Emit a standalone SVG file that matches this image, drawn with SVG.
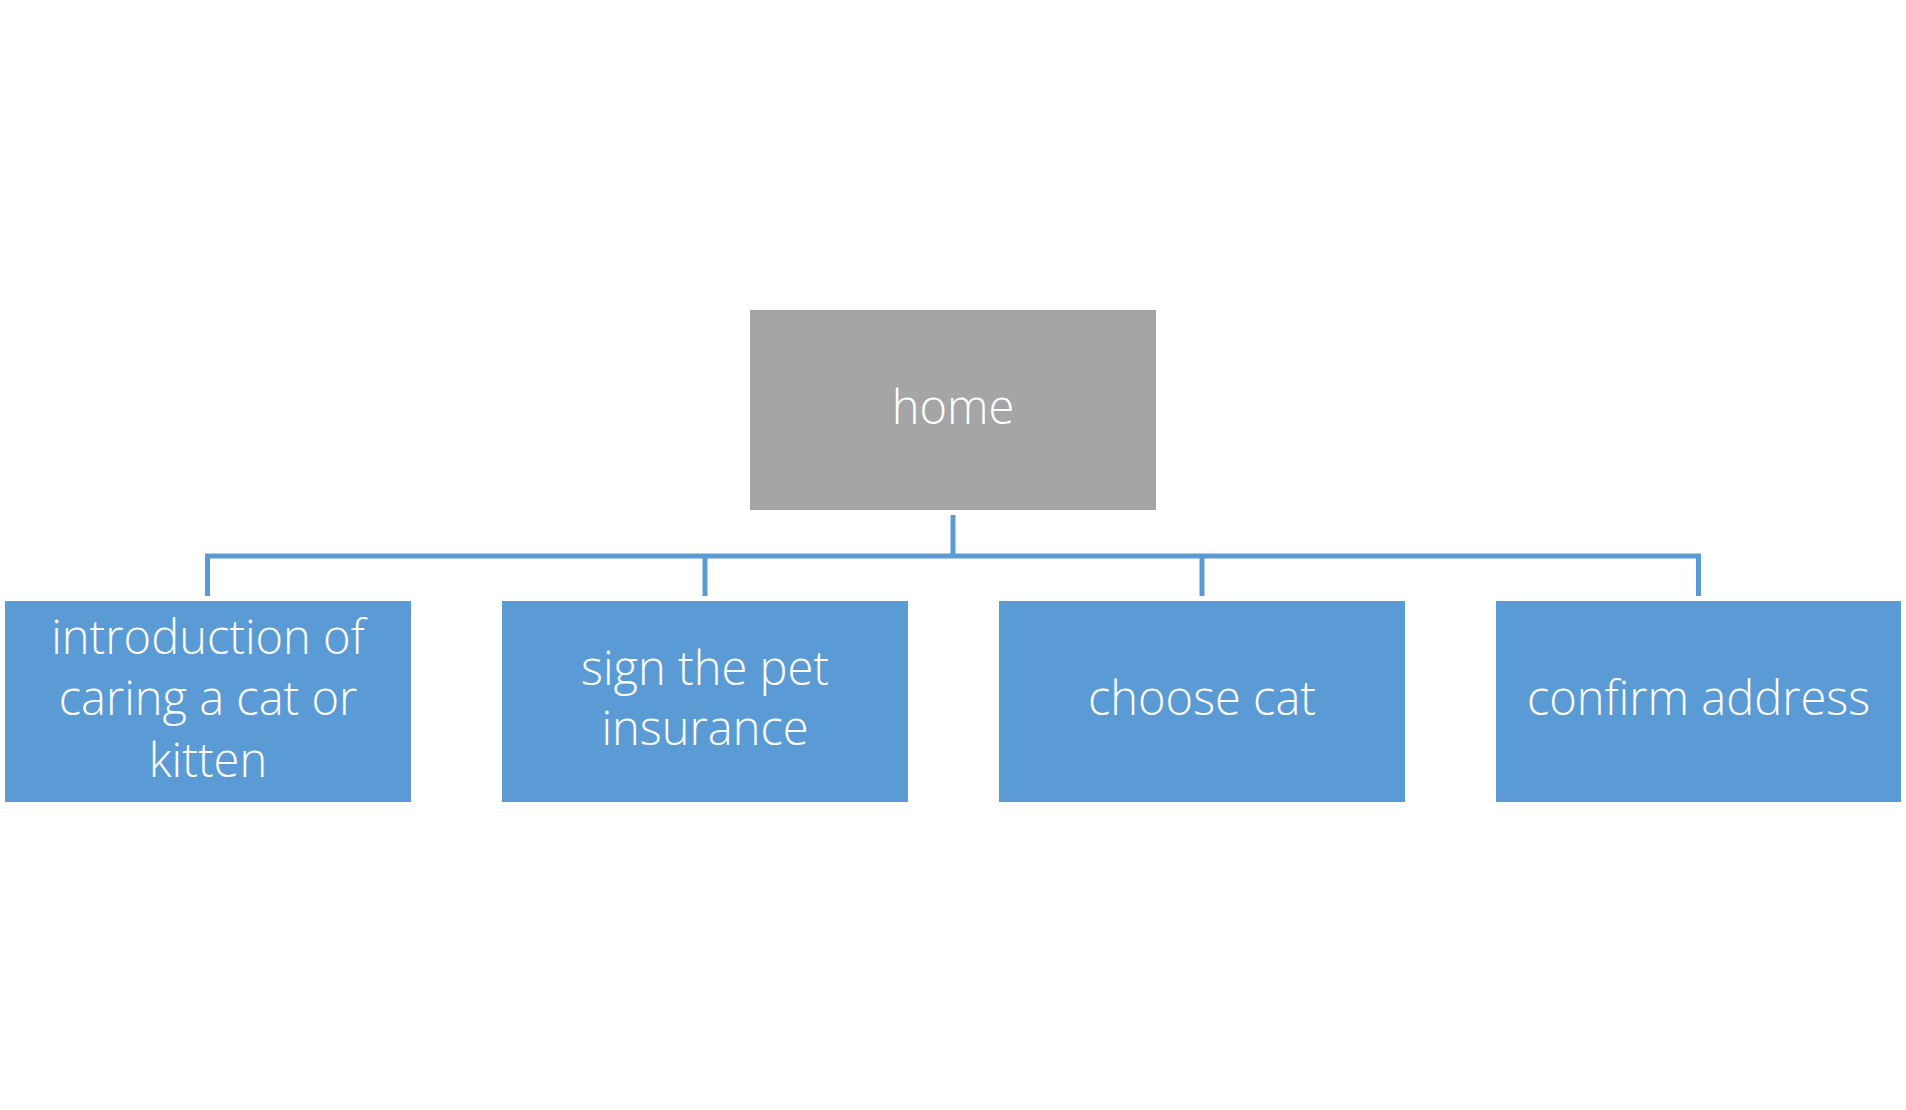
<svg xmlns="http://www.w3.org/2000/svg" width="1906" height="1110" viewBox="0 0 1906 1110">
<style>
.box{fill:#5B9BD5}
.home{fill:#A5A5A5}
.t{font-family:"Open Sans","Noto Sans",sans-serif;font-weight:300;font-size:47px;fill:#FFFFFF;text-anchor:middle}
.c{fill:none;stroke:#5B9BD5;stroke-width:5}
</style>
<rect width="1906" height="1110" fill="#FFFFFF"/>
<g id="connectors">
<path class="c" d="M953 515 V556"/>
<path class="c" d="M207.5 596 V556 H1698.5 V596"/>
<path class="c" d="M705 556 V596"/>
<path class="c" d="M1202 556 V596"/>
</g>
<g id="home">
<rect class="home" x="750" y="310" width="406" height="200"/>
<text class="t" x="953" y="424">home</text>
</g>
<g id="intro">
<rect class="box" x="5" y="601" width="406" height="201"/>
<text class="t" x="208" y="654">introduction of</text>
<text class="t" x="208" y="715">caring a cat or</text>
<text class="t" x="208" y="777">kitten</text>
</g>
<g id="insurance">
<rect class="box" x="502" y="601" width="406" height="201"/>
<text class="t" x="705" y="685">sign the pet</text>
<text class="t" x="705" y="745">insurance</text>
</g>
<g id="choose">
<rect class="box" x="999" y="601" width="406" height="201"/>
<text class="t" x="1202" y="715">choose cat</text>
</g>
<g id="confirm">
<rect class="box" x="1496" y="601" width="405" height="201"/>
<text class="t" x="1698.5" y="715">confirm address</text>
</g>
</svg>
